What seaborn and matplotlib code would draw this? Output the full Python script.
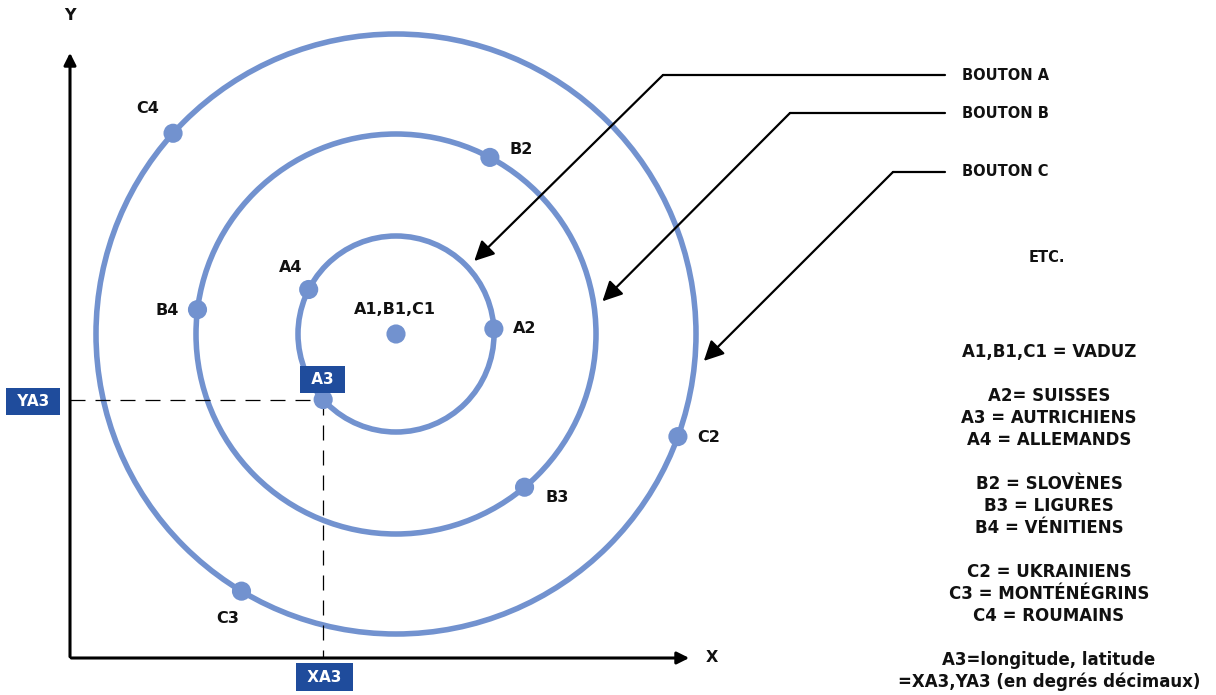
import numpy as np
import pandas as pd
import seaborn as sns
import matplotlib.pyplot as plt

# Données : anneaux (boutons) et points placés sur les cercles
anneaux = ['A', 'B', 'C']
rayons = [98, 200, 300]

points = ['A2', 'A3', 'A4', 'B2', 'B3', 'B4', 'C2', 'C3', 'C4']
points_anneau = ['A', 'A', 'A', 'B', 'B', 'B', 'C', 'C', 'C']
points_angle = [3, 222, 153, 62, -50, 173, -20, 239, 138]

boutons = ['BOUTON A', 'BOUTON B', 'BOUTON C']
boutons_angle = [43, 9, -5]

legende = ['A1,B1,C1 = VADUZ', '',
           'A2= SUISSES', 'A3 = AUTRICHIENS', 'A4 = ALLEMANDS', '',
           'B2 = SLOVÈNES', 'B3 = LIGURES', 'B4 = VÉNITIENS', '',
           'C2 = UKRAINIENS', 'C3 = MONTÉNÉGRINS', 'C4 = ROUMAINS', '',
           'A3=longitude, latitude', '=XA3,YA3 (en degrés décimaux)']

bleu = '#7292cf'
bleu_fonce = '#1f4c9c'

sns.set_theme(style='white')
plt.rcParams['font.family'] = ['DejaVu Sans']

fig = plt.figure(figsize=(12.16, 6.95), dpi=100)
ax = fig.add_axes([0, 0, 1, 1])
ax.set_xlim(-396, 820)
ax.set_ylim(-361, 334)
ax.axis('off')

# cercles
for r in rayons:
    ax.add_patch(plt.Circle((0, 0), r, fill=False, lw=4.0, color=bleu, zorder=2))

ray = dict(zip(anneaux, rayons))
df = pd.DataFrame({'nom': points, 'anneau': points_anneau, 'angle': points_angle})
df['r'] = df['anneau'].map(ray)
df['x'] = df['r'] * np.cos(np.radians(df['angle']))
df['y'] = df['r'] * np.sin(np.radians(df['angle']))
centre = pd.DataFrame({'nom': ['A1,B1,C1'], 'x': [0.0], 'y': [0.0]})
tous = pd.concat([centre, df[['nom', 'x', 'y']]], ignore_index=True)

sns.scatterplot(data=tous, x='x', y='y', s=190, color=bleu, edgecolor='none',
                zorder=4, ax=ax, legend=False)

# étiquettes des points
decal = {'A1,B1,C1': (-1, 25), 'A2': (31, 0), 'A4': (-18, 22), 'B2': (31, 8),
         'B3': (33, -10), 'B4': (-30, -1), 'C2': (31, -1), 'C3': (-14, -27),
         'C4': (-25, 25)}
lbl_font = dict(fontsize=11.5, fontweight='bold', color='#111111', ha='center', va='center',
                family='DejaVu Sans Condensed')
for _, p in tous.iterrows():
    if p['nom'] in decal:
        dx, dy = decal[p['nom']]
        ax.text(p['x'] + dx, p['y'] + dy, p['nom'], zorder=5, **lbl_font)

# axes X / Y
ox, oy = -326, -324
ax.annotate('', xy=(ox, 284), xytext=(ox, oy - 1.5),
            arrowprops=dict(arrowstyle='-|>', lw=2.2, color='black', mutation_scale=18))
ax.annotate('', xy=(296, oy), xytext=(ox - 1.5, oy),
            arrowprops=dict(arrowstyle='-|>', lw=2.2, color='black', mutation_scale=18))
ax.text(ox, 318, 'Y', **lbl_font)
ax.text(316, oy, 'X', **lbl_font)

# A3 projeté sur les axes
a3 = df[df['nom'] == 'A3'].iloc[0]
ax.plot([ox, a3['x']], [a3['y'], a3['y']], ls=(0, (12, 8)), lw=0.9, color='black', zorder=3)
ax.plot([a3['x'], a3['x']], [a3['y'], oy], ls=(0, (12, 8)), lw=0.9, color='black', zorder=3)

box_font = dict(fontsize=11, fontweight='bold', color='white', ha='center', va='center',
                family='DejaVu Sans Condensed', zorder=6)
boite = dict(boxstyle='square,pad=0.4', fc=bleu_fonce, ec='none')
ax.text(a3['x'] - 1, a3['y'] + 20, ' A3 ', bbox=boite, **box_font)
ax.text(-363, a3['y'] - 2, ' YA3 ', bbox=boite, **box_font)
ax.text(a3['x'] + 1, -343, ' XA3 ', bbox=boite, **box_font)

# flèches des boutons
bout_y = [259, 221, 162]
coude_x = [267, 394, 497]
for nom, ang, by, cx, r in zip(boutons, boutons_angle, bout_y, coude_x, rayons):
    cible = np.array([np.cos(np.radians(ang)), np.sin(np.radians(ang))]) * (r + 9)
    ax.plot([cx, 549], [by, by], color='black', lw=1.6)
    ax.annotate('', xy=(cible[0], cible[1]), xytext=(cx, by),
                arrowprops=dict(arrowstyle='-|>,head_width=0.3,head_length=0.6', lw=1.6,
                                color='black', mutation_scale=20, shrinkA=0, shrinkB=0))
    ax.text(566, by, nom, fontsize=10.5, fontweight='bold', color='#111111', ha='left',
            va='center', family='DejaVu Sans Condensed')

ax.text(651, 76, 'ETC.', fontsize=10.5, fontweight='bold', color='#111111', ha='center',
        va='center', family='DejaVu Sans Condensed')

y0 = -18
for i, ligne in enumerate(legende):
    if ligne:
        ax.text(653, y0 - i * 22, ligne, fontsize=12, fontweight='bold', color='#111111',
                ha='center', va='center', family='DejaVu Sans Condensed')

fig.savefig('out.png', dpi=100)
